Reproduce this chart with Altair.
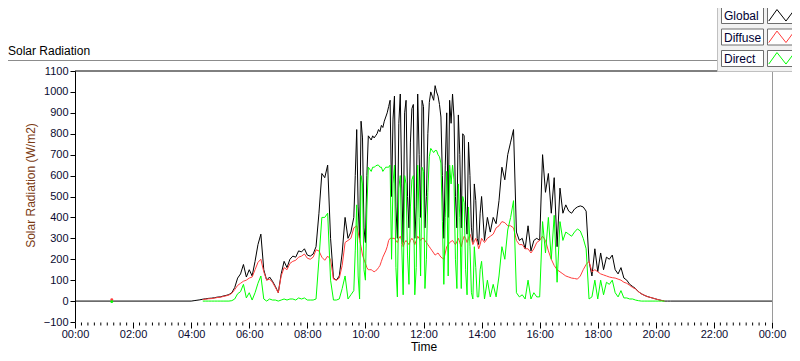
import altair as alt
import pandas as pd

# ---------------- data ----------------
# sample times in minutes after midnight: 6-min steps 04:00-09:30,
# 3-min steps 09:36-13:57, 6-min steps 14:00-20:30
seg_a = (240, 576, 6)
seg_b = (576, 840, 3)
seg_c = (840, 1231, 6)

global_vals = [
    0, 2, 4, 6, 9, 11, 13, 14, 16, 19,                      # 04
    20, 24, 27, 31, 40, 65, 110, 130, 175, 115,             # 05
    150, 120, 190, 270, 320, 150, 100, 115, 95, 70,         # 06
    40, 130, 190, 160, 200, 215, 210, 240, 235, 250,        # 07
    220, 215, 225, 260, 420, 610, 590, 650, 300, 110,       # 08
    100, 120, 230, 400, 300, 330,                           # 09:00-09:30
    400, 600, 820, 450, 300, 860, 780, 350,                 # 09:36-09:57
    280, 600, 790, 780, 770, 790, 780, 790, 800, 820,       # 10
    810, 840, 830, 860, 880, 900, 930, 960, 500, 870,
    980, 450, 300, 850, 990, 560, 280, 900, 960, 500,       # 11
    350, 760, 920, 940, 300, 450, 990, 700, 400, 960,
    930, 350, 500, 800, 950, 1000, 980, 960, 1030, 1000,    # 12
    980, 940, 880, 600, 300, 650, 900, 400, 960, 850,
    990, 880, 500, 350, 890, 700, 350, 800, 790, 450,       # 13
    320, 760, 600, 350, 280, 560, 480, 300, 270, 420,
    500, 290, 400, 330, 400, 370, 480, 640, 580, 700,       # 14
    760, 820, 330, 290, 300, 250, 360, 240, 290, 300,       # 15
    290, 700, 520, 610, 420, 590, 260, 540, 420, 460,       # 16
    430, 420, 440, 450, 455, 450, 430, 190, 120, 250,       # 17
    140, 230, 150, 210, 200, 220, 150, 130, 160, 110,       # 18
    100, 80, 70, 60, 45, 35, 28, 22, 18, 14,                # 19
    10, 6, 3, 0, 0, 0,                                      # 20
]
diffuse_vals = [
    None, None, None, None, 7, 9, 11, 12, 14, 17,
    18, 22, 25, 29, 37, 55, 75, 85, 95, 100,
    110, 115, 150, 185, 200, 140, 100, 105, 90, 65,
    40, 120, 160, 150, 180, 190, 195, 210, 215, 225,
    205, 200, 210, 245, 240, 210, 195, 215, 200, 105,
    100, 110, 170, 280, 290, 300,
    350, 355, 360, 330, 290, 260, 220, 200,
    180, 160, 150, 150, 150, 145, 140, 145, 150, 160,
    170, 190, 210, 225, 240, 260, 290, 300, 300, 300,
    300, 290, 280, 300, 310, 290, 260, 280, 290, 280,
    270, 290, 300, 290, 270, 290, 310, 300, 290, 300,
    300, 290, 280, 270, 260, 250, 240, 230, 220, 225,
    230, 220, 210, 205, 200, 230, 260, 270, 280, 285,
    290, 280, 270, 285, 300, 280, 260, 290, 310, 300,
    280, 300, 320, 300, 270, 285, 300, 280, 250, 270,
    300, 280, 300, 310, 320, 350, 360, 380, 375, 360,
    360, 350, 290, 270, 270, 250, 250, 230, 250, 280,
    290, 310, 290, 240, 200, 170, 150, 140, 130, 120,
    115, 110, 108, 105, 120, 150, 175, 190, 140, 150,
    140, 130, 125, 120, 115, 112, 110, 105, 100, 90,
    85, 75, 65, 58, 45, 35, 28, 22, 18, 14,
    10, 6, 3, 0, None, None,
]
direct_vals = [
    None, None, None, None, 0, 0, 0, 0, 0, 0,
    0, 0, 0, 0, 2, 10, 35, 45, 80, 15,
    40, 5, 40, 85, 120, 10, 0, 10, 5, 5,
    0, 5, 10, 5, 10, 10, 5, 15, 10, 15,
    5, 5, 5, 10, 200, 400, 400, 420, 100, 5,
    5, 10, 60, 120, 10, 30,
    50, 240, 460, 120, 10, 600, 560, 150,
    100, 440, 640, 630, 620, 640, 640, 645, 650, 650,
    640, 640, 620, 630, 640, 640, 640, 650, 200, 560,
    650, 160, 20, 540, 600, 270, 30, 600, 560, 220,
    80, 450, 580, 600, 30, 160, 650, 400, 120, 640,
    620, 60, 200, 520, 690, 730, 720, 710, 720, 720,
    700, 690, 660, 380, 80, 400, 620, 120, 650, 560,
    650, 580, 200, 60, 560, 400, 60, 500, 470, 150,
    30, 450, 260, 40, 10, 260, 160, 20, 20, 150,
    190, 10, 100, 20, 80, 20, 120, 260, 200, 340,
    400, 480, 40, 20, 30, 10, 100, 10, 40, 20,
    20, 380, 230, 400, 200, 410, 90, 380, 290, 330,
    320, 310, 330, 345, 335, 300, 250, 10, 20, 100,
    10, 100, 30, 90, 80, 100, 40, 20, 50, 15,
    15, 10, 10, 5, 2, 0, 0, 0, 0, 0,
    0, 0, 0, 0, None, None,
]

# small glitch near 01:16
blip_minutes = [76]
blip_diffuse = [7]
blip_direct = [-3]

series_names = ["Global", "Diffuse", "Direct"]
series_colors = ["#000000", "#ff3c3c", "#00ff00"]

x_tick_values = list(range(0, 1441, 120))
y_tick_values = list(range(-100, 1101, 100))
minor_ticks = [i * 120 / 9 for i in range(0, 109) if i % 9 != 0]

# ---------------- frames ----------------
times = list(range(*seg_a)) + list(range(*seg_b)) + list(range(*seg_c))
assert len(times) == len(global_vals) == len(diffuse_vals) == len(direct_vals)

df_global = pd.DataFrame({"t": [0] + times + [1440], "v": [0] + global_vals + [0]})
df_diffuse = pd.DataFrame({"t": times, "v": diffuse_vals}).dropna()
df_direct = pd.DataFrame({"t": times, "v": direct_vals}).dropna()
df_blip_d = pd.DataFrame({"t": blip_minutes, "v": blip_diffuse})
df_blip_r = pd.DataFrame({"t": blip_minutes, "v": blip_direct})
df_minor = pd.DataFrame({"t": minor_ticks})
df_one = pd.DataFrame({"k": [0]})

W, H = 697, 251
FONT = "Liberation Sans"
LABEL_COLOR = "#0a0a30"

xscale = alt.Scale(domain=[0, 1440], nice=False, zero=False)
yscale = alt.Scale(domain=[-100, 1100], nice=False, zero=False)

xaxis = alt.Axis(
    values=x_tick_values,
    labelExpr="(floor(datum.value/60)%24 < 10 ? '0' : '') + (floor(datum.value/60)%24) + ':00'",
    domain=False, grid=False, tickSize=6, tickColor="#000000",
    labelPadding=0, labelFlush=False, labelOverlap=False, labelBound=False,
    labelFont=FONT, labelFontSize=11, labelColor=LABEL_COLOR,
    title="Time", titleFont=FONT, titleFontSize=12, titleFontWeight="normal",
    titleColor="#000000", titleBaseline="top", titleY=19,
)
yaxis = alt.Axis(
    values=y_tick_values, format="d", domain=True, domainColor="#000000", grid=False,
    tickSize=5, tickColor="#000000", labelPadding=2,
    labelFont=FONT, labelFontSize=11, labelColor=LABEL_COLOR, labelOverlap=False,
    title="Solar Radiation (W/m2)", titleFont=FONT, titleFontSize=12,
    titleFontWeight="normal", titleColor="#7a3a12", titleAngle=-90,
    titleAlign="center", titleBaseline="bottom", titleX=-38, titleY=114,
)

def xenc():
    return alt.X("t:Q", scale=xscale, axis=xaxis)

def yenc():
    return alt.Y("v:Q", scale=yscale, axis=yaxis)

layers = []
for df, col in zip([df_global, df_diffuse, df_direct], series_colors):
    layers.append(
        alt.Chart(df).mark_line(color=col, strokeWidth=1).encode(x=xenc(), y=yenc())
    )
layers.append(alt.Chart(df_blip_d).mark_point(filled=True, size=8, color=series_colors[1], opacity=1).encode(x=xenc(), y=yenc()))
layers.append(alt.Chart(df_blip_r).mark_point(filled=True, size=8, color=series_colors[2], opacity=1).encode(x=xenc(), y=yenc()))

# minor ticks
layers.append(
    alt.Chart(df_minor).mark_rule(color="#000000", strokeWidth=1).encode(
        x=xenc(), y=alt.value(H + 0.5), y2=alt.value(H + 3.5)
    )
)

# plot borders
layers.append(alt.Chart(df_one).mark_rule(color="#000000").encode(
    x=alt.value(0), x2=alt.value(W), y=alt.value(0)))
layers.append(alt.Chart(df_one).mark_rule(color="#9a9a9a").encode(
    x=alt.value(W + 0.5), y=alt.value(0), y2=alt.value(H)))

# outer frame line + caption
layers.append(alt.Chart(df_one).mark_rule(color="#8c8c8c").encode(
    x=alt.value(-75), x2=alt.value(642), y=alt.value(-10.5)))
layers.append(alt.Chart(df_one).mark_text(
    text="Solar Radiation", font=FONT, fontSize=12, color="#000000",
    align="left", baseline="alphabetic").encode(x=alt.value(-67), y=alt.value(-16)))

# legend panel
layers.append(alt.Chart(df_one).mark_rect(fill="#f2f2f2", stroke="#c0c0c0", strokeWidth=1).encode(
    x=alt.value(642.5), x2=alt.value(730), y=alt.value(-80), y2=alt.value(0.5)))
row_centers = [-55.5, -34, -12.5]
zig = "M-1,0.42L-0.38,-0.45L0.3,0.42L1,-0.52"
for name, col, cy in zip(series_names, series_colors, row_centers):
    layers.append(alt.Chart(df_one).mark_rect(fill="#ffffff", stroke="#6e6e6e", strokeWidth=1).encode(
        x=alt.value(646.5), x2=alt.value(688.5), y=alt.value(cy - 8), y2=alt.value(cy + 8)))
    layers.append(alt.Chart(df_one).mark_text(
        text=name, font=FONT, fontSize=12, color="#000033",
        align="left", baseline="middle").encode(x=alt.value(649), y=alt.value(cy + 0.5)))
    layers.append(alt.Chart(df_one).mark_rect(fill="#ffffff", stroke="#6e6e6e", strokeWidth=1).encode(
        x=alt.value(692.5), x2=alt.value(721.5), y=alt.value(cy - 8), y2=alt.value(cy + 8)))
    layers.append(alt.Chart(df_one).mark_point(
        shape=zig, filled=False, size=700, strokeWidth=1, color=col, opacity=1).encode(
        x=alt.value(707), y=alt.value(cy)))

chart = alt.layer(*layers).properties(
    width=W, height=H,
    autosize=alt.AutoSizeParams(type="none"),
    padding={"left": 67, "top": 63, "right": 20, "bottom": 31},
    background="#ffffff",
).configure_view(strokeWidth=0)

chart.save("out.html", embed_options={"renderer": "svg", "actions": False})
